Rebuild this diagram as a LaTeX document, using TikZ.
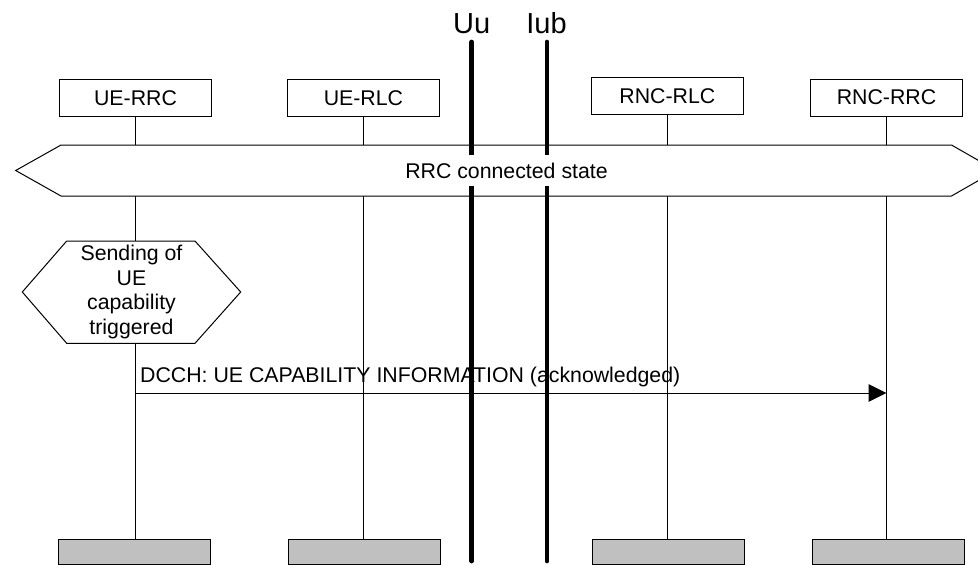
\documentclass[tikz,border=0pt]{standalone}
\usepackage{fontspec}
\setmainfont{Liberation Sans}
\usepackage{xcolor}
\usepackage{tikz}
\usetikzlibrary{arrows.meta, positioning}

\definecolor{endgray}{RGB}{192,192,192}

\tikzset{
  entity/.style={draw, line width=1pt, fill=white, minimum width=152pt, minimum height=37pt, inner sep=0pt},
  endbox/.style={draw, line width=1pt, fill=endgray, minimum width=152pt, minimum height=25pt, inner sep=0pt},
  lifeline/.style={line width=1pt},
  label/.style={font=\fontsize{21.3}{24.5}\selectfont, inner sep=0pt},
  iface/.style={line width=4.7pt, line cap=round},
  msg/.style={line width=1pt, -{Triangle[length=18pt,width=17.5pt]}}
}

\begin{document}
\begin{tikzpicture}[x=1pt, y=-1pt]
      % canvas
      \useasboundingbox (0,0) rectangle (978,565);
      \clip (0,0) rectangle (978,565);

      % entities on top
      \foreach \name/\x/\y/\txt in {uerrc/135.5/97.7/UE-RRC, uerlc/363.4/97.7/UE-RLC,
                                     rncrlc/667.4/95.9/RNC-RLC, rncrrc/886.5/97.6/RNC-RRC}{
        \node[entity, label] (\name) at (\x,\y) {\txt};
      }

      % grey boxes at the bottom
      \foreach \name/\x/\y in {uerrc/134/552, uerlc/364/552, rncrlc/668/551.5, rncrrc/888/552}{
        \node[endbox] (\name-end) at (\x,\y) {};
      }

      % lifelines
      \foreach \name in {uerrc, uerlc, rncrlc, rncrrc}{
        \draw[lifeline] (\name.south) -- (\name.south |- \name-end.north);
      }

      % RRC connected state
      \draw[lifeline, fill=white] (15.7,170.5) -- (61,145) -- (951.5,145) -- (996,170.5)
        -- (951.5,196) -- (61,196) -- cycle;

      % trigger
      \draw[lifeline, fill=white] (22.3,292) -- (66.7,241) -- (195,241) -- (240.7,292)
        -- (195,343.3) -- (66.7,343.3) -- cycle;
      \node[label, align=center] (trigger) at (131.5,292) {Sending of\\UE\\capability\\triggered};

      % message
      \coordinate (dcch-from) at (uerrc.south |- 0,393);
      \coordinate (dcch-to) at (886.5,393);
      \draw[msg] (dcch-from) -- (dcch-to);
      \node[label, anchor=base west] (dcch) at (140,382) {DCCH: UE CAPABILITY INFORMATION (acknowledged)};

      % interfaces
      \node[label, font=\fontsize{29}{33}\selectfont, anchor=base] (uu) at (471.7,33.5) {Uu};
      \node[label, font=\fontsize{29}{33}\selectfont, anchor=base] (iub) at (546.5,33.5) {Iub};
      \coordinate (uu-top) at (471.7,42);
      \coordinate (uu-bot) at (471.7,561);
      \coordinate (iub-top) at (547,42);
      \coordinate (iub-bot) at (547,561);
      \draw[iface] (uu-top) -- (uu-bot);
      \draw[iface] (iub-top) -- (iub-bot);

      % state text covers the interface lines
      \node[label, fill=white, inner xsep=3pt, inner ysep=8pt] (state) at (506.5,170.5) {RRC connected state};
\end{tikzpicture}
\end{document}
